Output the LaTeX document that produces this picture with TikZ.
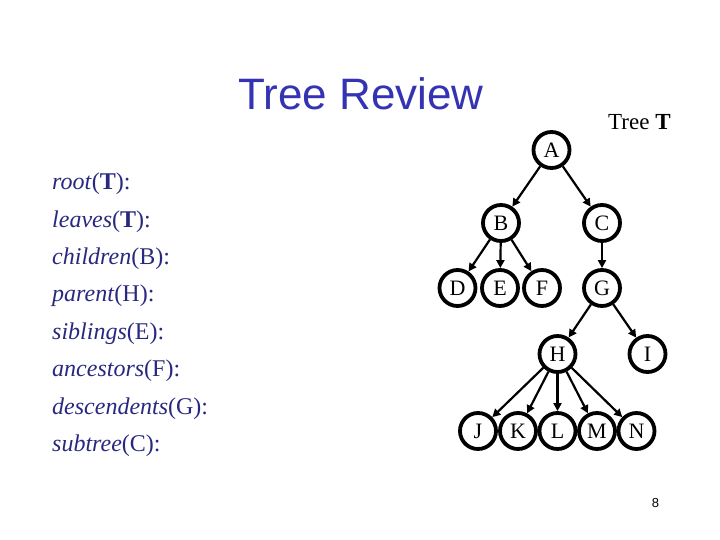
\documentclass[tikz,border=0pt]{standalone}
\usepackage{fontspec}
\setmainfont{Liberation Serif}
\newfontfamily\titlefont{Liberation Sans}
\usetikzlibrary{arrows.meta}
\definecolor{titleblue}{RGB}{51,51,180}
\definecolor{textblue}{RGB}{40,40,128}
\begin{document}
\begin{tikzpicture}[x=1pt,y=-1pt,
  tnode/.style={circle,draw=black,line width=3.8pt,minimum size=36pt,inner sep=0pt,font=\fontsize{22}{22}\selectfont},
  edge/.style={line width=2.2pt,-{Triangle[length=8pt,width=8pt]}},
  deflabel/.style={anchor=base west,text=textblue,font=\fontsize{24}{24}\selectfont,inner sep=0pt}]
\useasboundingbox (0,0) rectangle (720,540);
\node[text=titleblue,font=\titlefont\fontsize{44}{44}\selectfont,inner sep=0pt] (title) at (361,94) {Tree Review};
\node[anchor=base west,inner sep=0pt,font=\fontsize{23}{23}\selectfont] (treeT) at (608,130) {Tree \textbf{T}};
% left definitions
\node[deflabel] (d1) at (52,190) {\textit{root}(\textbf{T}):};
\node[deflabel] (d2) at (52,227.5) {\textit{leaves}(\textbf{T}):};
\node[deflabel] (d3) at (52,264.5) {\textit{children}(B):};
\node[deflabel] (d4) at (52,301.5) {\textit{parent}(H):};
\node[deflabel] (d5) at (52,339) {\textit{siblings}(E):};
\node[deflabel] (d6) at (52,376.5) {\textit{ancestors}(F):};
\node[deflabel] (d7) at (52,414) {\textit{descendents}(G):};
\node[deflabel] (d8) at (52,451) {\textit{subtree}(C):};
% tree nodes
\node[tnode] (A) at (551.5,150) {A};
\node[tnode] (B) at (501,223) {B};
\node[tnode] (C) at (602,223) {C};
\node[tnode] (D) at (457.5,288) {D};
\node[tnode] (E) at (500,288) {E};
\node[tnode] (F) at (542,288) {F};
\node[tnode] (G) at (602,288) {G};
\node[tnode] (H) at (557.5,354) {H};
\node[tnode] (I) at (647.5,354) {I};
\node[tnode] (J) at (478,431) {J};
\node[tnode] (K) at (518,431) {K};
\node[tnode] (L) at (557.5,431) {L};
\node[tnode] (M) at (597,431) {M};
\node[tnode] (N) at (636.5,431) {N};
% edges
\draw[edge] (A) -- (B);
\draw[edge] (A) -- (C);
\draw[edge] (B) -- (D);
\draw[edge] (B) -- (E);
\draw[edge] (B) -- (F);
\draw[edge] (C) -- (G);
\draw[edge] (G) -- (H);
\draw[edge] (G) -- (I);
\draw[edge] (H) -- (J);
\draw[edge] (H) -- (K);
\draw[edge] (H) -- (L);
\draw[edge] (H) -- (M);
\draw[edge] (H) -- (N);
\node[font=\titlefont\fontsize{13}{13}\selectfont,inner sep=0pt] (page) at (655.5,503) {8};
\end{tikzpicture}
\end{document}
